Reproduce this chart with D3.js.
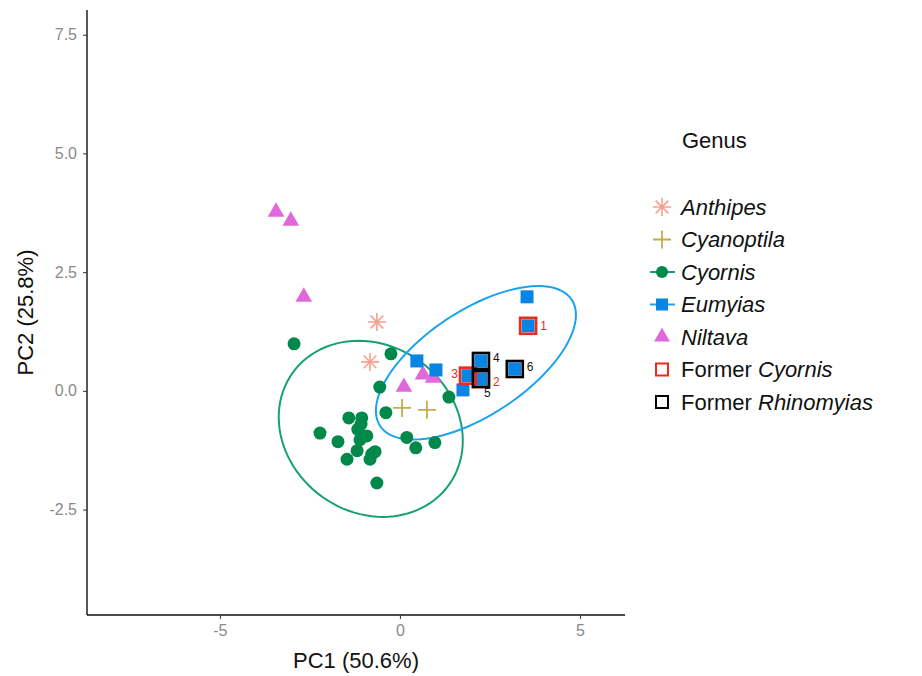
<!DOCTYPE html>
<head>
  <meta charset="utf-8">
  <script src="https://d3js.org/d3.v7.min.js"></script>
  <style>
    body { margin: 0; background: #fff; }
    svg { font-family: "Liberation Sans", Arial, sans-serif; }
    .tick text { fill: #8a8a8a; font-size: 16px; font-family: "Liberation Sans", Arial, sans-serif; }
    .tick line { stroke: #333; }
    .domain { stroke: #111; stroke-width: 1.4px; }
    .axis-title { font-size: 22px; fill: #111; }
    .legend text { font-size: 22px; fill: #111; }
  </style>
</head>
<body>
  <script>
    // PCA scores
    var anthipes   = [[-0.64, 1.45], [-0.83, 0.61]];
    var cyanoptila = [[0.06, -0.36], [0.75, -0.40]];
    var cyornis = [
      [-2.94, 0.99], [-0.25, 0.78], [-0.56, 0.08], [-0.39, -0.46], [1.36, -0.13],
      [-1.42, -0.57], [-1.06, -0.57], [-2.22, -0.89], [-1.72, -1.07], [-1.17, -0.81],
      [-0.92, -0.95], [-1.11, -1.03], [-1.19, -1.26], [-1.47, -1.44], [-0.83, -1.44],
      [-0.69, -1.28], [-0.78, -1.33], [0.19, -0.98], [0.44, -1.20], [0.97, -1.09],
      [-0.64, -1.94], [-1.08, -0.70]
    ];
    var eumyias = [
      [3.53, 1.98], [3.56, 1.37], [0.47, 0.63], [1.0, 0.44], [1.75, 0.02],
      [2.25, 0.63], [2.25, 0.25], [1.89, 0.32], [3.19, 0.46]
    ];
    var niltava = [[-3.44, 3.77], [-3.03, 3.58], [-2.67, 1.98], [0.11, 0.08], [0.64, 0.34], [0.92, 0.27]];
    var formerCyornis = [[3.56, 1.37, "1"], [2.25, 0.25, "2"], [1.89, 0.32, "3"]];
    var formerRhinomyias = [[2.25, 0.63, "4"], [2.25, 0.25, "5"], [3.19, 0.46, "6"]];

    // 95% ellipses: centre and two conjugate half-axes, data units
    var ellipseCyornis = {c: [-0.81, -0.80], u: [2.17, -1.18], v: [-1.35, -1.43]};
    var ellipseEumyias = {c: [2.11, 0.59], u: [2.66, 1.33], v: [0.80, -0.92]};

    var xTicks = [-5, 0, 5];
    var yTicks = [-2.5, 0, 2.5, 5, 7.5];
    var xTickLabels = ["-5", "0", "5"];
    var yTickLabels = ["-2.5", "0.0", "2.5", "5.0", "7.5"];
    var genera = ["Anthipes", "Cyanoptila", "Cyornis", "Eumyias", "Niltava"];

    var W = 922, H = 676;
    var panel = {left: 87, right: 625, top: 10, bottom: 615};

    var col = {
      anthipes: "#f8a091", cyanoptila: "#bfae4c", cyornis: "#00894a",
      eumyias: "#0a84e2", niltava: "#e068da", ellG: "#16a077", ellB: "#1ca3ee",
      red: "#ee2b1b", black: "#000"
    };

    var svg = d3.select("body").append("svg")
      .attr("width", W).attr("height", H);

    var x = d3.scaleLinear().domain([-8.69, 6.25]).range([panel.left, panel.right]);
    var y = d3.scaleLinear().domain([-4.72, 8.02]).range([panel.bottom, panel.top]);

    var xAxis = svg.append("g")
      .attr("transform", "translate(0," + panel.bottom + ")")
      .call(d3.axisBottom(x).tickValues(xTicks).tickSize(4).tickPadding(6)
        .tickFormat((d, i) => xTickLabels[i]));
    var yAxis = svg.append("g")
      .attr("transform", "translate(" + panel.left + ",0)")
      .call(d3.axisLeft(y).tickValues(yTicks).tickSize(4).tickPadding(6)
        .tickFormat((d, i) => yTickLabels[i]));
    xAxis.select(".domain").attr("d", "M" + panel.left + ",0H" + panel.right);
    yAxis.select(".domain").attr("d", "M0," + panel.top + "V" + panel.bottom);

    svg.append("text").attr("class", "axis-title")
      .attr("x", (panel.left + panel.right) / 2).attr("y", 668)
      .attr("text-anchor", "middle").text("PC1 (50.6%)");
    svg.append("text").attr("class", "axis-title")
      .attr("transform", "translate(33," + (panel.top + panel.bottom) / 2 + ") rotate(-90)")
      .attr("text-anchor", "middle").text("PC2 (25.8%)");

    // ellipses
    function ellipsePath(e) {
      var pts = d3.range(0, 101).map(function(i) {
        var t = i / 100 * 2 * Math.PI;
        return [x(e.c[0] + e.u[0] * Math.cos(t) + e.v[0] * Math.sin(t)),
                y(e.c[1] + e.u[1] * Math.cos(t) + e.v[1] * Math.sin(t))];
      });
      return d3.line()(pts) + "Z";
    }
    var plot = svg.append("g");
    plot.append("path").attr("d", ellipsePath(ellipseCyornis))
      .attr("fill", "none").attr("stroke", col.ellG).attr("stroke-width", 2);
    plot.append("path").attr("d", ellipsePath(ellipseEumyias))
      .attr("fill", "none").attr("stroke", col.ellB).attr("stroke-width", 2);

    function asterisk(r) {
      var d = "";
      [0, 45, 90, 135].forEach(function(a) {
        var c = Math.cos(a * Math.PI / 180) * r, s = Math.sin(a * Math.PI / 180) * r;
        d += "M" + (-c) + "," + (-s) + "L" + c + "," + s;
      });
      return d;
    }
    function plus(r) { return "M" + (-r) + ",0H" + r + "M0," + (-r) + "V" + r; }

    function tr(d) { return "translate(" + x(d[0]) + "," + y(d[1]) + ")"; }

    plot.selectAll(".cyo").data(cyornis).enter().append("circle")
      .attr("cx", d => x(d[0])).attr("cy", d => y(d[1])).attr("r", 6.5)
      .attr("fill", col.cyornis);
    plot.selectAll(".ant").data(anthipes).enter().append("path")
      .attr("transform", tr).attr("d", asterisk(9))
      .attr("stroke", col.anthipes).attr("stroke-width", 1.6).attr("fill", "none");
    plot.selectAll(".cya").data(cyanoptila).enter().append("path")
      .attr("transform", tr).attr("d", plus(9))
      .attr("stroke", col.cyanoptila).attr("stroke-width", 1.8).attr("fill", "none");
    plot.selectAll(".nil").data(niltava).enter().append("path")
      .attr("transform", tr).attr("d", d3.symbol(d3.symbolTriangle, 120)())
      .attr("fill", col.niltava);
    plot.selectAll(".eum").data(eumyias).enter().append("rect")
      .attr("x", d => x(d[0]) - 6.5).attr("y", d => y(d[1]) - 6.5)
      .attr("width", 13).attr("height", 13).attr("fill", col.eumyias);

    function hollow(data, colour) {
      plot.selectAll(null).data(data).enter().append("rect")
        .attr("x", d => x(d[0]) - 8).attr("y", d => y(d[1]) - 8)
        .attr("width", 16).attr("height", 16)
        .attr("fill", "none").attr("stroke", colour).attr("stroke-width", 2.6);
    }
    hollow(formerCyornis, col.red);
    hollow(formerRhinomyias, col.black);

    // point labels: offsets in px per label
    var labelOffset = {"1": [12, 0, "start"], "2": [12, 3, "start"], "3": [-10, -2, "end"],
                       "4": [12, -3, "start"], "5": [3, 14, "start"], "6": [12, -2, "start"]};
    function labels(data, colour) {
      plot.selectAll(null).data(data).enter().append("text")
        .attr("x", d => x(d[0]) + labelOffset[d[2]][0])
        .attr("y", d => y(d[1]) + labelOffset[d[2]][1])
        .attr("dy", "0.35em").attr("text-anchor", d => labelOffset[d[2]][2])
        .attr("font-size", 12).attr("fill", colour).text(d => d[2]);
    }
    labels(formerCyornis, col.red);
    labels(formerRhinomyias, "#111");

    // legend
    var lg = svg.append("g").attr("class", "legend");
    lg.append("text").attr("x", 682).attr("y", 148).text("Genus");
    var rowY = d3.scalePoint().domain(d3.range(7)).range([207, 402]);
    var kx = 662, tx = 681;
    var items = genera.map(g => [g]).concat([["Former ", "Cyornis"], ["Former ", "Rhinomyias"]]);
    items.forEach(function(it, i) {
      var t = lg.append("text").attr("x", tx).attr("y", rowY(i)).attr("dy", "0.35em");
      if (it.length === 1) t.append("tspan").attr("font-style", "italic").text(it[0]);
      else { t.append("tspan").text(it[0]); t.append("tspan").attr("font-style", "italic").text(it[1]); }
    });
    var k = lg.append("g");
    k.append("path").attr("transform", "translate(" + kx + "," + rowY(0) + ")").attr("d", asterisk(9))
      .attr("stroke", col.anthipes).attr("stroke-width", 1.6);
    k.append("path").attr("transform", "translate(" + kx + "," + rowY(1) + ")").attr("d", plus(9))
      .attr("stroke", col.cyanoptila).attr("stroke-width", 1.8);
    k.append("line").attr("x1", 650).attr("x2", 675).attr("y1", rowY(2)).attr("y2", rowY(2))
      .attr("stroke", col.ellG).attr("stroke-width", 2);
    k.append("circle").attr("cx", kx).attr("cy", rowY(2)).attr("r", 6).attr("fill", col.cyornis);
    k.append("line").attr("x1", 650).attr("x2", 675).attr("y1", rowY(3)).attr("y2", rowY(3))
      .attr("stroke", col.ellB).attr("stroke-width", 2);
    k.append("rect").attr("x", kx - 6).attr("y", rowY(3) - 6).attr("width", 12).attr("height", 12).attr("fill", col.eumyias);
    k.append("path").attr("transform", "translate(" + kx + "," + rowY(4) + ")")
      .attr("d", d3.symbol(d3.symbolTriangle, 110)()).attr("fill", col.niltava);
    k.append("rect").attr("x", kx - 6).attr("y", rowY(5) - 6).attr("width", 12).attr("height", 12)
      .attr("fill", "none").attr("stroke", col.red).attr("stroke-width", 2);
    k.append("rect").attr("x", kx - 6).attr("y", rowY(6) - 6).attr("width", 12).attr("height", 12)
      .attr("fill", "none").attr("stroke", col.black).attr("stroke-width", 2);
  </script>
</body>
